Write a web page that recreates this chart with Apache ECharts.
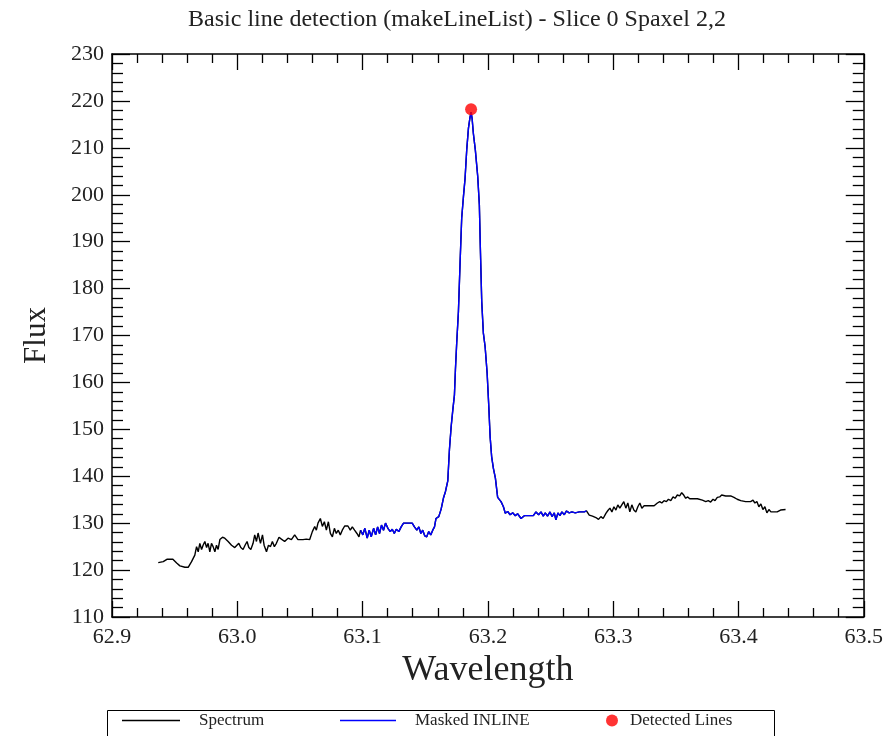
<!DOCTYPE html>
<html>
<head>
<meta charset="utf-8">
<script src="https://cdn.jsdelivr.net/npm/echarts@6/dist/echarts.min.js"></script>
<style>
html,body{margin:0;padding:0;background:#fff;}
#chart{width:886px;height:736px;}
</style>
</head>
<body>
<div id="chart"></div>
<script>
// ---- data ----
var wavelength = [
62.9369,62.9409,62.9438,62.9486,62.9516,62.9542,62.9582,62.9608,62.9635,62.9661,
62.9675,62.9688,62.9701,62.9715,62.9727,62.9741,62.9755,62.9767,62.9781,62.9794,
62.9807,62.9821,62.9834,62.9847,62.9861,62.9882,62.9900,62.9927,62.9954,62.9980,
62.9994,63.0012,63.0028,63.0046,63.0062,63.0078,63.0092,63.0108,63.0126,63.0139,
63.0153,63.0166,63.0185,63.0201,63.0214,63.0233,63.0249,63.0265,63.0280,63.0296,
63.0312,63.0333,63.0352,63.0378,63.0405,63.0432,63.0458,63.0484,63.0498,63.0524,
63.0551,63.0578,63.0599,63.0618,63.0631,63.0644,63.0663,63.0679,63.0695,63.0711,
63.0727,63.0743,63.0759,63.0775,63.0790,63.0806,63.0822,63.0838,63.0857,63.0883,
63.0902,63.0918,63.0936,63.0955,63.0971,63.0984,63.1002,63.1018,63.1037,63.1053,
63.1069,63.1088,63.1104,63.1120,63.1135,63.1151,63.1167,63.1183,63.1202,63.1221,
63.1237,63.1253,63.1269,63.1289,63.1308,63.1327,63.1361,63.1396,63.1414,63.1433,
63.1449,63.1465,63.1480,63.1496,63.1512,63.1528,63.1544,63.1560,63.1574,63.1586,
63.1608,63.1627,63.1645,63.1661,63.1680,63.1693,63.1707,63.1720,63.1733,63.1741,
63.1751,63.1765,63.1778,63.1791,63.1805,63.1818,63.1831,63.1845,63.1858,63.1866,
63.1874,63.1884,63.1900,63.1919,63.1932,63.1940,63.1951,63.1964,63.1978,63.1994,
63.2006,63.2018,63.2030,63.2044,63.2060,63.2078,63.2105,63.2124,63.2139,63.2158,
63.2177,63.2198,63.2219,63.2237,63.2265,63.2291,63.2331,63.2363,63.2384,63.2405,
63.2424,63.2442,63.2458,63.2476,63.2496,63.2512,63.2530,63.2543,63.2559,63.2575,
63.2591,63.2610,63.2628,63.2649,63.2671,63.2697,63.2729,63.2769,63.2787,63.2809,
63.2835,63.2862,63.2883,63.2902,63.2920,63.2942,63.2958,63.2974,63.2990,63.3006,
63.3022,63.3037,63.3053,63.3069,63.3085,63.3101,63.3117,63.3133,63.3149,63.3165,
63.3181,63.3197,63.3213,63.3229,63.3247,63.3287,63.3327,63.3353,63.3372,63.3388,
63.3406,63.3425,63.3441,63.3460,63.3478,63.3494,63.3512,63.3531,63.3547,63.3563,
63.3579,63.3595,63.3611,63.3632,63.3672,63.3712,63.3739,63.3759,63.3778,63.3797,
63.3813,63.3831,63.3850,63.3866,63.3898,63.3938,63.3964,63.3990,63.4018,63.4057,
63.4097,63.4116,63.4131,63.4147,63.4163,63.4179,63.4195,63.4211,63.4227,63.4243,
63.4259,63.4283,63.4309,63.4336,63.4376
];
var flux = [
121.6,121.8,122.3,122.3,121.5,120.9,120.6,120.6,121.8,123.2,
125.0,123.9,125.7,124.4,125.3,126.1,124.8,125.7,123.9,125.7,
125.0,123.9,125.3,124.4,126.5,127.0,126.8,126.1,125.3,124.8,
124.4,125.7,124.8,124.4,125.3,126.1,124.8,124.4,125.7,127.5,
126.1,127.9,125.7,127.5,125.3,123.9,125.3,125.0,126.1,125.0,
125.7,127.0,126.6,126.1,126.8,126.5,127.5,126.5,126.1,126.5,
126.6,126.5,128.2,129.3,128.5,130.0,131.0,129.3,130.3,128.5,
130.3,127.8,127.1,128.9,127.8,128.5,127.5,128.5,129.4,129.4,
128.5,129.2,128.5,127.8,127.1,128.5,127.5,128.9,126.8,128.5,
127.1,128.9,127.5,129.2,127.8,129.6,128.5,130.0,128.9,128.2,
128.7,127.8,128.7,128.2,129.2,130.0,130.0,130.0,129.2,128.5,
129.2,127.8,128.5,127.3,127.1,128.2,127.5,128.5,129.2,131.0,
131.4,133.0,135.3,136.7,139.0,145.6,150.6,154.1,157.3,162.7,
168.3,175.1,185.4,195.0,199.6,203.5,209.5,214.2,216.6,217.6,
216.3,213.1,209.5,203.9,197.8,188.6,177.2,170.5,167.6,162.0,
155.6,148.4,144.2,141.7,139.6,135.5,134.6,133.5,132.1,132.5,
131.8,132.2,131.6,132.0,131.0,131.6,131.6,131.6,132.4,131.8,
132.4,131.5,132.2,131.5,132.4,131.4,132.2,130.7,132.2,131.6,
132.4,131.8,132.6,132.2,132.4,132.2,132.4,132.4,132.6,131.7,
131.5,131.2,130.8,131.4,131.0,132.1,132.7,133.2,132.4,133.5,
132.8,133.9,133.2,133.9,134.6,133.2,134.3,132.4,133.9,132.8,
132.4,133.5,134.3,133.2,133.7,133.7,133.7,134.3,134.6,134.3,
134.8,134.6,135.1,134.8,135.6,135.3,136.0,135.8,136.5,136.0,
135.3,135.6,135.2,135.2,135.2,134.9,134.6,134.8,134.5,135.1,
134.8,135.5,135.6,136.0,135.8,135.8,135.5,135.1,134.8,134.6,
134.6,134.9,134.3,134.6,133.5,134.1,132.9,133.5,132.2,132.9,
132.4,132.4,132.4,132.8,132.9
];
// masked INLINE wavelength range
var maskRange = [63.098, 63.279];
// detected lines
var lineWavelength = [63.1866];
var lineFlux = [218.2];
// axes
var xTicks = [62.9, 63.0, 63.1, 63.2, 63.3, 63.4, 63.5];
var yTicks = [110, 120, 130, 140, 150, 160, 170, 180, 190, 200, 210, 220, 230];

// ---- build ----
var spectrumData = wavelength.map(function (w, i) { return [w, flux[i]]; });
var maskedData = spectrumData.filter(function (p) { return p[0] >= maskRange[0] && p[0] <= maskRange[1]; });
var detectedData = lineWavelength.map(function (w, i) { return [w, lineFlux[i]]; });

var serif = 'Liberation Serif, Times New Roman, serif';
var ink = '#222';

function xAxisCfg(pos, showLabels) {
  return {
    type: 'value', position: pos,
    min: xTicks[0], max: xTicks[xTicks.length - 1], interval: 0.1,
    name: showLabels ? 'Wavelength' : '', nameLocation: 'middle', nameGap: 32,
    nameTextStyle: { fontFamily: serif, fontSize: 36, color: ink },
    axisLine: { show: true, onZero: false, lineStyle: { color: '#000', width: 1.5 } },
    axisTick: { show: true, inside: true, length: 16, lineStyle: { color: '#000', width: 1.3 } },
    minorTick: { show: true, splitNumber: 5, length: 9, lineStyle: { color: '#000', width: 1.3 } },
    axisLabel: { show: showLabels, margin: 9, fontFamily: serif, fontSize: 22, color: ink,
      formatter: function (v) { return v.toFixed(1); } },
    splitLine: { show: false }, minorSplitLine: { show: false }
  };
}
function yAxisCfg(pos, showLabels) {
  return {
    type: 'value', position: pos,
    min: yTicks[0], max: yTicks[yTicks.length - 1], interval: 10,
    name: showLabels ? 'Flux' : '', nameLocation: 'middle', nameGap: 60, nameRotate: 90,
    nameTextStyle: { fontFamily: serif, fontSize: 31, color: ink },
    axisLine: { show: true, onZero: false, lineStyle: { color: '#000', width: 1.5 } },
    axisTick: { show: true, inside: true, length: 18, lineStyle: { color: '#000', width: 1.3 } },
    minorTick: { show: true, splitNumber: 5, length: 11, lineStyle: { color: '#000', width: 1.3 } },
    axisLabel: { show: showLabels, margin: 8, fontFamily: serif, fontSize: 22, color: ink },
    splitLine: { show: false }, minorSplitLine: { show: false }
  };
}

var legendText = { fontFamily: serif, fontSize: 17, color: ink };
var chart = echarts.init(document.getElementById('chart'), null, { renderer: 'canvas' });
chart.setOption({
  animation: false,
  backgroundColor: '#fff',
  title: {
    text: 'Basic line detection (makeLineList) - Slice 0 Spaxel 2,2',
    left: 452, top: 3, textAlign: 'center',
    textStyle: { fontFamily: serif, fontSize: 24, fontWeight: 'normal', color: ink }
  },
  grid: { left: 112, right: 21, top: 54, bottom: 119, containLabel: false },
  xAxis: [xAxisCfg('bottom', true), xAxisCfg('top', false)],
  yAxis: [yAxisCfg('left', true), yAxisCfg('right', false)],
  legend: [
    { data: ['Spectrum'], left: 122, top: 712, padding: 0, icon: 'rect', itemWidth: 58, itemHeight: 1.5,
      textStyle: Object.assign({ padding: [0, 0, 0, 14] }, legendText) },
    { data: ['Masked INLINE'], left: 340, top: 712, padding: 0, icon: 'rect', itemWidth: 56, itemHeight: 1.5,
      textStyle: Object.assign({ padding: [0, 0, 0, 14] }, legendText) },
    { data: ['Detected Lines'], left: 606, top: 712, padding: 0, icon: 'circle', itemWidth: 12, itemHeight: 12,
      textStyle: Object.assign({ padding: [0, 0, 0, 7] }, legendText) }
  ],
  graphic: [
    { type: 'rect', left: 105, top: 708, shape: { width: 667, height: 40 },
      style: { fill: 'none', stroke: '#000', lineWidth: 1 }, silent: true }
  ],
  series: [
    { name: 'Spectrum', type: 'line', data: spectrumData, showSymbol: false, symbol: 'none',
      lineStyle: { color: '#000', width: 1.4 }, itemStyle: { color: '#000' }, z: 2 },
    { name: 'Masked INLINE', type: 'line', data: maskedData, showSymbol: false, symbol: 'none',
      lineStyle: { color: '#0000ff', width: 1.4 }, itemStyle: { color: '#0000ff' }, z: 3 },
    { name: 'Detected Lines', type: 'scatter', data: detectedData, symbol: 'circle', symbolSize: 12,
      itemStyle: { color: '#ff0000' }, z: 4 }
  ]
});
</script>
</body>
</html>
